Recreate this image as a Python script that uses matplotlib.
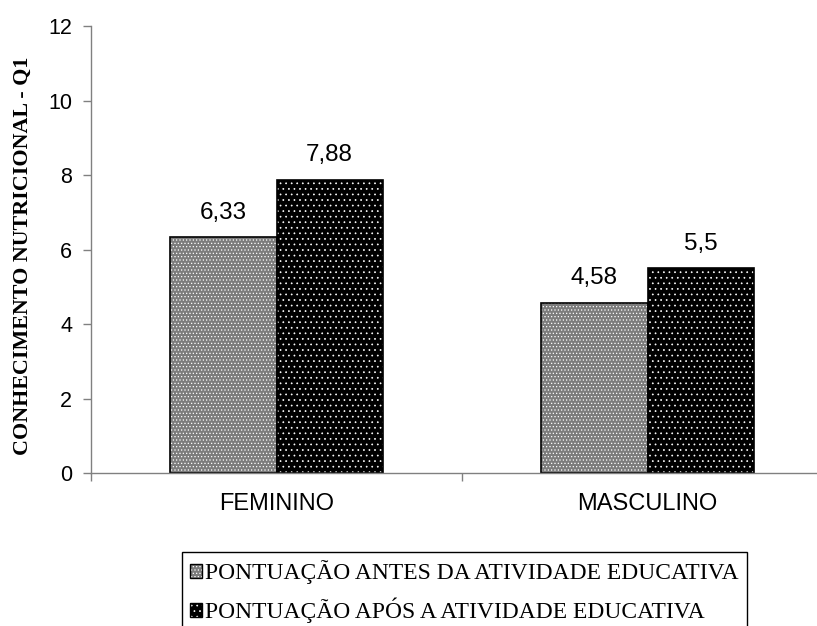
import matplotlib
matplotlib.use("Agg")
import matplotlib.pyplot as plt
from matplotlib.patches import Patch
from matplotlib.legend_handler import HandlerTuple
import numpy as np

categories = ["FEMININO", "MASCULINO"]
series_names = ["PONTUAÇÃO ANTES DA ATIVIDADE EDUCATIVA",
                "PONTUAÇÃO APÓS A ATIVIDADE EDUCATIVA"]
antes = [6.33, 4.58]
apos = [7.88, 5.5]
value_labels = [["6,33", "4,58"], ["7,88", "5,5"]]
yticks = [0, 2, 4, 6, 8, 10, 12]

W, H = 817, 626
plt.rcParams["hatch.linewidth"] = 0.5
fig = plt.figure(figsize=(W / 100, H / 100), dpi=100)
ax = fig.add_axes([91 / W, 1 - 473.3 / H, (833 - 91) / W, (473.3 - 26) / H])

x = np.arange(len(categories))
bw = 0.286
styles = [dict(fc="#7c7c7c", hatch="....."), dict(fc="black", hatch="...")]

for i, vals in enumerate([antes, apos]):
    pos = x + (i - 0.5) * bw
    ax.bar(pos, vals, bw, color=styles[i]["fc"], edgecolor="white",
           linewidth=0, hatch=styles[i]["hatch"])
    ax.bar(pos, vals, bw, fill=False, edgecolor="black", linewidth=1.2)
    for p, v, lab in zip(pos, vals, value_labels[i]):
        ax.annotate(lab, (p, v), xytext=(0, 13.5), textcoords="offset points",
                    ha="center", va="baseline", fontsize=17.5,
                    family="Liberation Sans")

ax.set_xlim(-0.5, 1.5)
ax.set_ylim(0, 12)
ax.set_yticks(yticks)
ax.set_yticklabels([str(t) for t in yticks], fontsize=15.5, family="Liberation Sans")
ax.set_xticks(x)
ax.set_xticklabels(categories, fontsize=17, family="Liberation Sans")
ax.set_xticks([-0.5, 0.5, 1.5], minor=True)
ax.tick_params(axis="x", which="major", length=0, pad=14)
ax.tick_params(axis="x", which="minor", length=5.5, color="#808080", width=1)
ax.tick_params(axis="y", length=5.5, color="#808080", width=1, pad=8)
for s in ["top", "right"]:
    ax.spines[s].set_visible(False)
for s in ["left", "bottom"]:
    ax.spines[s].set_color("#808080")
    ax.spines[s].set_linewidth(1)

fig.text(23 / W, 1 - 256 / H, "CONHECIMENTO NUTRICIONAL - Q1", rotation=90,
         ha="center", va="center", fontsize=15.8, fontweight="bold",
         family="Liberation Serif")

handles = []
for st in styles:
    handles.append((Patch(facecolor=st["fc"], edgecolor="white", linewidth=0, hatch=st["hatch"]),
                    Patch(fill=False, edgecolor="black", linewidth=1)))
leg = fig.legend(handles, series_names, loc="upper left",
                 bbox_to_anchor=(182 / W, 1 - 552 / H), borderaxespad=0,
                 handler_map={tuple: HandlerTuple(ndivide=1, pad=0)},
                 prop={"family": "Liberation Serif", "size": 16.9},
                 handlelength=0.5, handleheight=0.5, handletextpad=0.15,
                 borderpad=0.35, labelspacing=0.58, fancybox=False,
                 edgecolor="black", framealpha=1)
leg.get_frame().set_linewidth(1)

fig.savefig("out.png", dpi=100)
